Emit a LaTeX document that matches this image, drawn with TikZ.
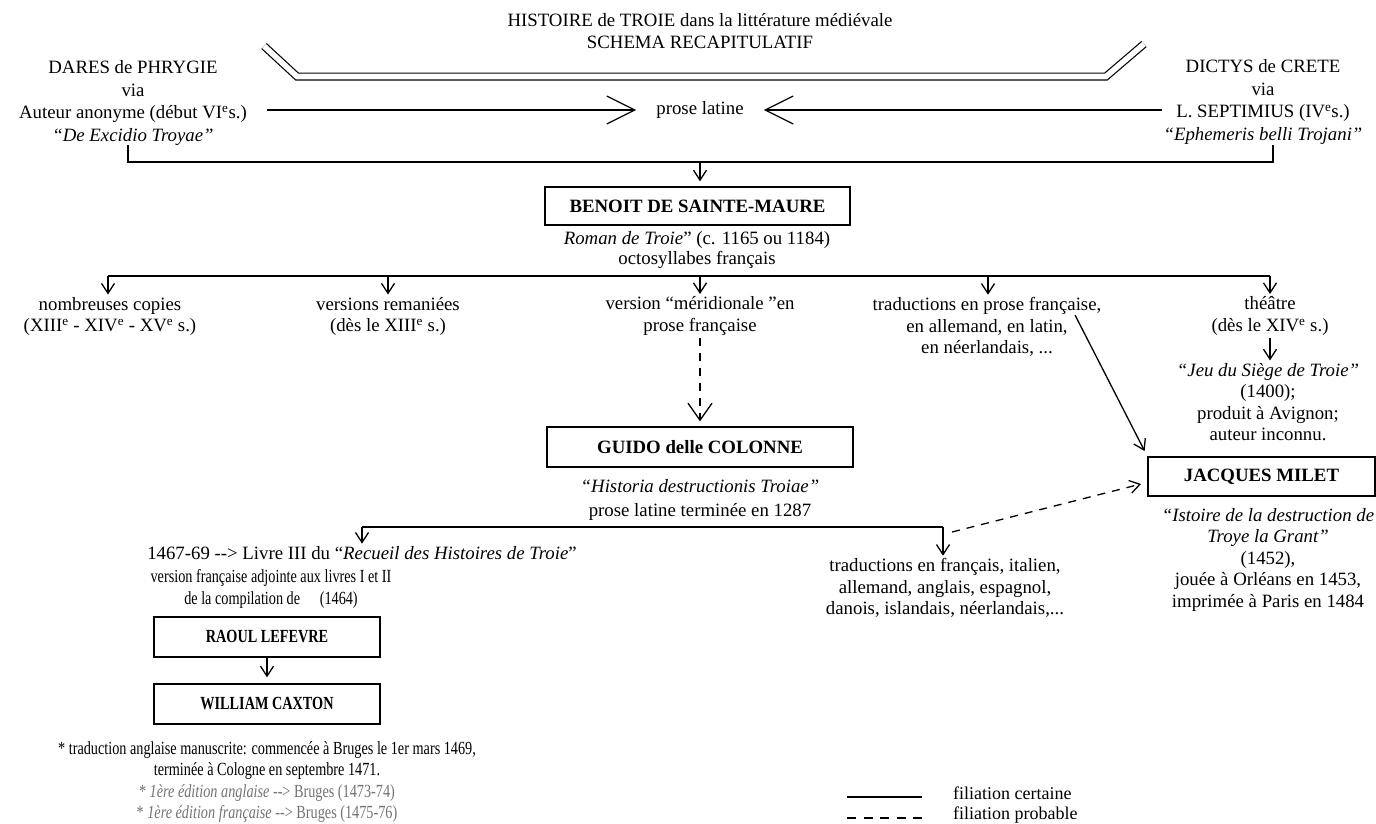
\documentclass[tikz,border=0pt]{standalone}
\usepackage{fontspec}
\setmainfont{Liberation Serif}
\newfontfamily\condfont[FakeStretch=0.77]{Liberation Serif}
\usetikzlibrary{arrows.meta,calc}
\begin{document}
\begin{tikzpicture}[x=1pt,y=-1pt,
  every node/.style={font=\fontsize{18.8}{21.5}\selectfont, inner sep=0pt, align=center},
  txt/.style={inner sep=2.5pt},
  small/.style={inner sep=2.5pt, font=\condfont\fontsize{18.5}{21.5}\selectfont},
  src/.style={inner sep=2.5pt, font=\fontsize{18.8}{22.6}\selectfont},
  box/.style={draw, line width=1.3pt, font=\fontsize{18.8}{21.5}\selectfont\bfseries},
  sbox/.style={draw, line width=1.3pt, font=\condfont\fontsize{18.5}{21.5}\selectfont\bfseries},
  ln/.style={line width=1.3pt},
  arr/.style={ln, -{Straight Barb[length=10pt,width=13pt]}},
  bigarr/.style={ln, -{Straight Barb[length=28pt,width=28pt]}},
  dasharr/.style={ln, dash pattern=on 8pt off 7pt, -{Straight Barb[length=17pt,width=24pt]}},
  dasharrs/.style={ln, dash pattern=on 8pt off 7pt, -{Straight Barb[length=10pt,width=13pt]}},
  leg/.style={anchor=west, font=\fontsize{18}{21.5}\selectfont}
]
\fill[white] (0,0) rectangle (1376,823);
\useasboundingbox (0,0) rectangle (1376,823);

% title and double bar
\node (title) at (700,31) {HISTOIRE de TROIE dans la littérature médiévale\\SCHEMA RECAPITULATIF};
\draw[line width=1.2pt, double distance=5.6pt] (264,46) -- (297,76.5) -- (1106,76.5) -- (1144,44);

% sources
\node[src] (dares) at (133,103) {DARES de PHRYGIE\\via\\Auteur anonyme (début VI\textsuperscript{e}s.)\\\textit{“De Excidio Troyae”}};
\node[src] (dictys) at (1263,102) {DICTYS de CRETE\\via\\L. SEPTIMIUS (IV\textsuperscript{e}s.)\\\textit{“Ephemeris belli Trojani”}};
\node (prose) at (700,110) {prose latine};
\coordinate (la) at (267,110);
\coordinate (ra) at (1162,110);
\draw[bigarr, shorten >=20pt] (la) -- (prose.west);
\draw[bigarr, shorten >=20pt] (ra) -- (prose.east);

% bracket to Benoit
\coordinate (bl) at (128,145);
\coordinate (br) at (1273,145);
\coordinate (bj) at (700,162);
\draw[ln] (bl) |- (bj) -| (br);
\node[box, minimum width=305pt, minimum height=38pt] (benoit) at (697.5,206) {BENOIT DE SAINTE-MAURE};
\draw[arr, shorten >=5pt] (bj) -- (bj |- benoit.north);
\node[txt, font=\fontsize{18.8}{20}\selectfont] (bsub) at (697,250) {\textit{Roman de Troie}” (c. 1165 ou 1184)\\octosyllabes français};

% branches from Benoit
\coordinate (c1) at (108,276);
\coordinate (c2) at (388,276);
\coordinate (c3) at (700,276);
\coordinate (c4) at (988,276);
\coordinate (c5) at (1270,276);
\draw[ln] (c1) -- (c5);
\node[txt] (copies) at (110,316.5) {nombreuses copies\\(XIII\textsuperscript{e} - XIV\textsuperscript{e} - XV\textsuperscript{e} s.)};
\node[txt] (remaniees) at (388,316.5) {versions remaniées\\(dès le XIII\textsuperscript{e} s.)};
\node[txt] (merid) at (700,316) {version “méridionale ”en\\prose française};
\node[txt] (trad) at (987,327) {traductions en prose française,\\en allemand, en latin,\\en néerlandais, ...};
\node[txt] (theatre) at (1270,316) {théâtre\\(dès le XIV\textsuperscript{e} s.)};
\draw[arr] (c1) -- (c1 |- copies.north);
\draw[arr] (c2) -- (c2 |- remaniees.north);
\draw[arr] (c3) -- (c3 |- merid.north);
\draw[arr] (c4) -- (c4 |- trad.north);
\draw[arr] (c5) -- (c5 |- theatre.north);

% theatre
\node[txt] (jeu) at (1268,402) {\textit{“Jeu du Siège de Troie”}\\(1400);\\produit à Avignon;\\auteur inconnu.};
\draw[arr] (theatre.south) -- (theatre.south |- jeu.north);

% Jacques Milet
\node[box, minimum width=227pt, minimum height=39pt] (milet) at (1261.5,476.5) {JACQUES MILET};
\node[txt] (msub) at (1268,559.5) {\textit{“Istoire de la destruction de}\\\textit{Troye la Grant”}\\(1452),\\jouée à Orléans en 1453,\\imprimée à Paris en 1484};
\coordinate (tstart) at (1075,315);
\draw[arr, shorten >=6pt] (tstart) -- (milet.north west);

% Guido
\node[box, minimum width=306pt, minimum height=40pt] (guido) at (700,447) {GUIDO delle COLONNE};
\draw[dasharr, shorten >=5pt] (merid.south) -- (merid.south |- guido.north);
\node[txt, font=\fontsize{18.8}{24}\selectfont] (gsub) at (700,500) {\textit{“Historia destructionis Troiae”}\\prose latine terminée en 1287};
\coordinate (g1) at (362,527);
\coordinate (g2) at (943,527);
\draw[ln] (g1) -- (g2);
\node[txt] (rec1) at (362,553) {1467-69 -{}-> Livre III du “\textit{Recueil des Histoires de Troie}”};
\node[txt] (tradl) at (945,588) {traductions en français, italien,\\allemand, anglais, espagnol,\\danois, islandais, néerlandais,...};
\draw[arr] (g1) -- (g1 |- rec1.north);
\draw[arr] (g2) -- (g2 |- tradl.north);
\coordinate (dstart) at (952,532);
\coordinate (mtip) at (1141,484);
\draw[dasharrs] (dstart) -- (mtip);

% Raoul / Caxton
\node[small] (rec2) at (271,589) {version française adjointe aux livres I et II\\de la compilation de \hspace{16pt}(1464)};
\node[sbox, minimum width=226pt, minimum height=40pt] (raoul) at (267,637) {RAOUL LEFEVRE};
\node[sbox, minimum width=226pt, minimum height=40pt] (caxton) at (267,704) {WILLIAM CAXTON};
\draw[arr, shorten >=6pt] (raoul.south) -- (caxton.north);
\node[small] (foot) at (267,782) {* traduction anglaise manuscrite: commencée à Bruges le 1er mars 1469,\\terminée à Cologne en septembre 1471.\\{\color{black!55}* \textit{1ère édition anglaise} -{}-> Bruges (1473-74)}\\{\color{black!55}* \textit{1ère édition française} -{}-> Bruges (1475-76)}};

% legend
\coordinate (l1a) at (847,797);
\coordinate (l1b) at (922,797);
\coordinate (l2a) at (847,818);
\coordinate (l2b) at (922,818);
\draw[ln] (l1a) -- (l1b);
\draw[ln, dash pattern=on 9pt off 7.5pt] (l2a) -- (l2b);
\node[leg] (lt1) at (953,793) {filiation certaine};
\node[leg] (lt2) at (953,815) {filiation probable};
\end{tikzpicture}
\end{document}
